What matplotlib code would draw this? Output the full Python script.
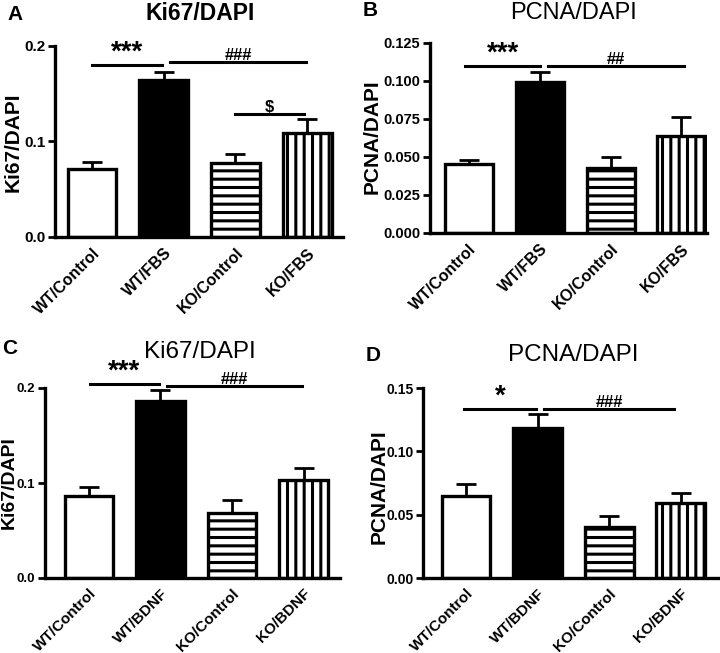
import matplotlib
matplotlib.use("Agg")
import matplotlib.pyplot as plt

plt.rcParams['font.family'] = ['Liberation Sans', 'DejaVu Sans']
plt.rcParams['hatch.linewidth'] = 2.2

# panel data (means and upper SEM)
labels_fbs = ["WT/Control", "WT/FBS", "KO/Control", "KO/FBS"]
labels_bdnf = ["WT/Control", "WT/BDNF", "KO/Control", "KO/BDNF"]

ki67_fbs = [0.071, 0.164, 0.078, 0.109]
ki67_fbs_err = [0.008, 0.009, 0.009, 0.015]
pcna_fbs = [0.0454, 0.0993, 0.0428, 0.0636]
pcna_fbs_err = [0.0028, 0.0064, 0.0072, 0.0125]
ki67_bdnf = [0.0864, 0.1864, 0.0685, 0.1031]
ki67_bdnf_err = [0.0098, 0.0116, 0.0137, 0.0129]
pcna_bdnf = [0.0648, 0.1188, 0.0401, 0.059]
pcna_bdnf_err = [0.0092, 0.0105, 0.0092, 0.0084]

# significance bars: (x1, x2, y, text, fontsize)
sig_a = [(0.0, 0.98, 0.180, "***", 20), (1.09, 2.98, 0.183, "###", 12), (2.0, 2.96, 0.129, "$", 12)]
sig_b = [(-0.05, 1.0, 0.110, "***", 20), (1.12, 3.03, 0.110, "##", 12)]
sig_c = [(0.01, 0.98, 0.2045, "***", 20), (1.09, 2.975, 0.2025, "###", 12)]
sig_d = [(-0.03, 0.976, 0.1335, "*", 20), (1.09, 2.91, 0.1335, "###", 12)]

W, H = 720, 653
fig = plt.figure(figsize=(W / 100, H / 100), dpi=100)


def px_axes(left, bottom, right, top):
    return fig.add_axes([left / W, 1 - bottom / H, (right - left) / W, (bottom - top) / H])


def panel(ax, labels, vals, errs, sigs, ylim, ticks, fmt, xlim, tfs, xfs):
    x = range(len(vals))
    colors = ["white", "black", "white", "white"]
    hatches = ["", "", "--", "||"]
    bars = ax.bar(x, vals, width=0.68, color=colors, edgecolor="black", linewidth=2.4)
    for b, h in zip(bars, hatches):
        b.set_hatch(h)
    ax.errorbar(x, vals, yerr=[[0] * len(vals), errs], fmt="none", ecolor="black",
                elinewidth=2, capsize=7, capthick=2, zorder=1)
    for x1, x2, y, t, fs in sigs:
        ax.plot([x1, x2], [y, y], color="black", lw=2.2, clip_on=False)
        ax.text((x1 + x2) / 2, y - ylim[1] * 0.005, t, ha="center", va="bottom",
                fontsize=fs, fontweight="bold")
    ax.set_ylim(*ylim)
    ax.set_xlim(*xlim)
    ax.set_yticks(ticks)
    ax.set_yticklabels([fmt.format(t) for t in ticks], fontsize=tfs, fontweight="bold")
    ax.set_xticks(list(x))
    ax.set_xticklabels(labels, rotation=45, ha="right", rotation_mode="anchor",
                       fontsize=xfs, fontweight="bold")
    ax.tick_params(axis="x", length=0, pad=6)
    ax.tick_params(axis="y", length=5, width=2, pad=2)
    for s in ["top", "right"]:
        ax.spines[s].set_visible(False)
    for s in ["left", "bottom"]:
        ax.spines[s].set_linewidth(2.4)


axA = px_axes(55, 237, 343, 46)
panel(axA, labels_fbs, ki67_fbs, ki67_fbs_err, sig_a, (0, 0.2), [0, 0.1, 0.2], "{:.1f}",
      (-0.516, 3.5), 11, 11.5)
axB = px_axes(430, 233, 707, 43)
panel(axB, labels_fbs, pcna_fbs, pcna_fbs_err, sig_b, (0, 0.125),
      [0, 0.025, 0.05, 0.075, 0.1, 0.125], "{:.3f}", (-0.55, 3.36), 10.5, 11.5)
axC = px_axes(45, 578, 340, 388)
panel(axC, labels_bdnf, ki67_bdnf, ki67_bdnf_err, sig_c, (0, 0.2), [0, 0.1, 0.2], "{:.1f}",
      (-0.615, 3.51), 9.5, 11)
axD = px_axes(423, 578, 718, 388)
panel(axD, labels_bdnf, pcna_bdnf, pcna_bdnf_err, sig_d, (0, 0.15), [0, 0.05, 0.10, 0.15], "{:.2f}",
      (-0.6, 3.52), 10, 11)

# y labels
for lx, ly, t, fs in [(13, 142, "Ki67/DAPI", 15), (372, 137, "PCNA/DAPI", 15),
                      (9, 483, "Ki67/DAPI", 14), (379, 487, "PCNA/DAPI", 15)]:
    fig.text(lx / W, 1 - ly / H, t, ha="center", va="center", rotation=90,
             fontsize=fs, fontweight="bold")

# titles and panel letters
fig.text(200 / W, 1 - 14 / H, "Ki67/DAPI", ha="center", va="center", fontsize=16.5, fontweight="bold")
fig.text(574 / W, 1 - 13 / H, "PCNA/DAPI", ha="center", va="center", fontsize=17)
fig.text(200 / W, 1 - 352 / H, "Ki67/DAPI", ha="center", va="center", fontsize=17.5)
fig.text(573 / W, 1 - 355 / H, "PCNA/DAPI", ha="center", va="center", fontsize=17.5)
for lx, ly, t in [(15, 15, "A"), (370, 11, "B"), (10, 348, "C"), (373, 356, "D")]:
    fig.text(lx / W, 1 - ly / H, t, ha="center", va="center", fontsize=15, fontweight="bold")

fig.savefig("out.png", dpi=100)
